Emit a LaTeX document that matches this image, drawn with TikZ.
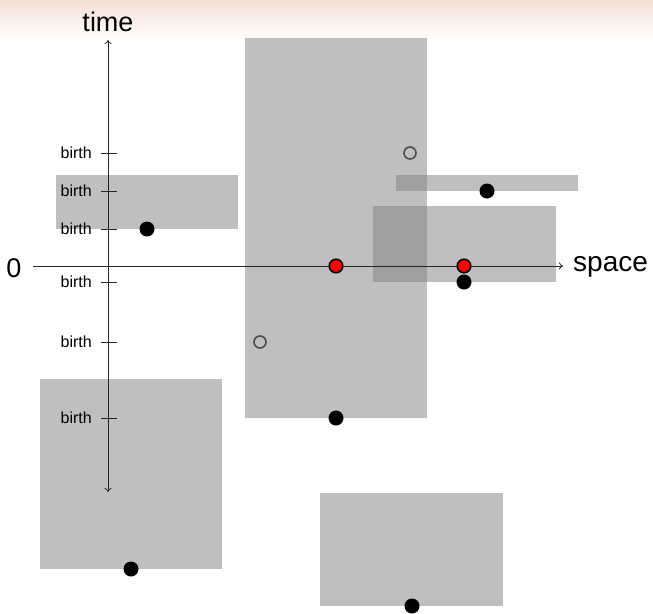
\documentclass[tikz,border=0pt]{standalone}
\usepackage{fontspec}
\setmainfont{Liberation Sans}
\usetikzlibrary{arrows.meta}
\definecolor{headtop}{RGB}{244,224,214}
\begin{document}
\begin{tikzpicture}[x=1pt,y=-1pt,
  interval/.style={fill=gray,fill opacity=0.5,draw=none},
  axis/.style={draw=black!85,line width=0.8pt},
  death/.style={circle,fill=black,inner sep=0pt,minimum size=15pt},
  alive/.style={circle,fill=red,draw=black,line width=1.6pt,inner sep=0pt,minimum size=13.5pt},
  unborn/.style={circle,draw=black!70,line width=1.6pt,inner sep=0pt,minimum size=12pt},
  bigl/.style={font=\fontsize{27}{32}\selectfont,inner sep=0pt},
  birthl/.style={font=\fontsize{16}{19}\selectfont,anchor=east,inner sep=0pt},
  tickm/.style={draw=black!85,line width=0.8pt}]
\useasboundingbox (0,0) rectangle (653,613);
% header band
\shade[top color=headtop,bottom color=white] (0,0) rectangle (653,40);

% lifetime intervals
\fill[interval] (56,175) rectangle (238,229);
\fill[interval] (245,38) rectangle (427,418);
\fill[interval] (396,175) rectangle (578,191);
\fill[interval] (373,206) rectangle (556,282);
\fill[interval] (40,379) rectangle (222,569);
\fill[interval] (320,493) rectangle (503,606);

% axes
\coordinate (ttop) at (108,40);
\coordinate (tbot) at (108,492);
\coordinate (sleft) at (33,266);
\coordinate (sright) at (563,266);
\draw[axis,{To[length=4pt,width=7pt]}-{To[length=4pt,width=7pt]}] (tbot) -- (ttop);
\draw[axis,-{To[length=4pt,width=7pt]}] (sleft) -- (sright);
\node[bigl] (tlab) at (108,22) {time};
\node[bigl,anchor=west,font=\fontsize{28}{33}\selectfont] (slab) at (573,267) {space};
\node[bigl] (zero) at (14,268) {0};

% birth ticks
\foreach \y [count=\i] in {153,191,229,282,342,418}{
  \draw[tickm] (101,\y) -- (117,\y);
  \node[birthl] (b\i) at (92,\y) {birth};
}

% events
\node[unborn] (u1) at (410,153) {};
\node[unborn] (u2) at (260,342) {};
\node[death] (d1) at (147,229) {};
\node[death] (d2) at (487,191) {};
\node[death] (d3) at (464,282) {};
\node[death] (d4) at (336,418) {};
\node[death] (d5) at (131,569) {};
\node[death] (d6) at (412,606) {};
\node[alive] (r1) at (336,266) {};
\node[alive] (r2) at (464,266) {};
\end{tikzpicture}
\end{document}
